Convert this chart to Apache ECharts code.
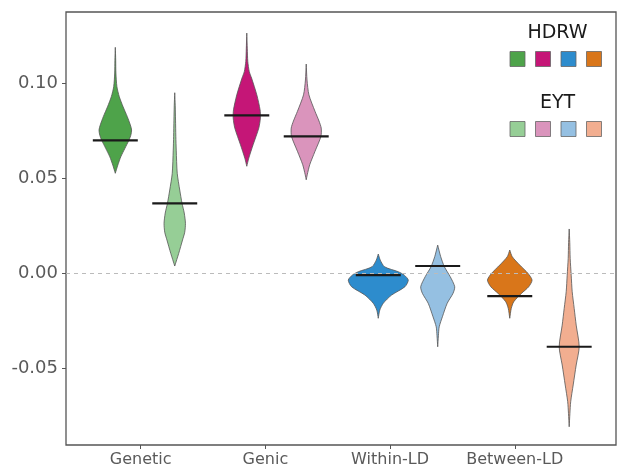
<!DOCTYPE html>
<html>
<head>
<meta charset="utf-8">
<script src="https://cdn.jsdelivr.net/npm/echarts@6/dist/echarts.min.js"></script>
<style>html,body{margin:0;padding:0;background:#fff;}#c{width:618px;height:469px;}</style>
</head>
<body>
<div id="c"></div>
<script>
// ---- data ----
const categories = ['Genetic', 'Genic', 'Within-LD', 'Between-LD'];
const groups = ['HDRW', 'EYT'];
const yTicks = [-0.05, 0, 0.05, 0.10];

// point estimates (horizontal bars)
const meanHDRW = [0.0698, 0.0830, -0.0011, -0.0121];
const meanEYT  = [0.0367, 0.0719, 0.0037, -0.0388];

// violin outlines: [value, density (half-width reading)] from top to bottom
const geneticHDRW = [[0.1188,0],[0.1120,0.4],[0.1053,0.6],[0.0981,1.6],[0.0928,4],[0.0875,7.8],[0.0823,12],[0.0780,15],[0.0753,16.3],[0.0725,15.5],[0.0700,13.7],[0.0655,9.5],[0.0612,5.5],[0.0568,2.5],[0.0525,0]];
const geneticEYT  = [[0.0949,0],[0.0880,0.5],[0.0805,0.8],[0.0720,1.1],[0.0647,1.5],[0.0525,2.5],[0.0437,5],[0.0367,7.3],[0.0316,9.5],[0.0262,10.7],[0.0215,10],[0.0174,7.8],[0.0104,4],[0.0037,0]];
const genicHDRW   = [[0.1263,0],[0.1180,0.5],[0.1114,1],[0.1060,2.5],[0.1026,4.8],[0.0938,10],[0.0859,13.3],[0.0816,13.6],[0.0763,12],[0.0675,6.3],[0.0605,2],[0.0562,0]];
const genicEYT    = [[0.1100,0],[0.1016,0.8],[0.0938,2.7],[0.0851,8.8],[0.0800,12.8],[0.0763,15],[0.0719,14.7],[0.0641,8.8],[0.0570,3.5],[0.0517,1],[0.0491,0]];
const withinHDRW  = [[0.0100,0],[0.0068,2],[0.0033,6.3],[0.0007,20],[-0.0011,26],[-0.0037,30],[-0.0072,26.7],[-0.0116,13.3],[-0.0159,5],[-0.0195,1.5],[-0.0238,0]];
const withinEYT   = [[0.0147,0],[0.0086,3],[0.0033,6.7],[-0.0019,12.5],[-0.0072,17],[-0.0107,15.3],[-0.0159,9.5],[-0.0230,4.7],[-0.0283,1.5],[-0.0330,0.7],[-0.0388,0]];
const betweenHDRW = [[0.0121,0],[0.0086,2.5],[0.0042,10],[-0.0002,18.3],[-0.0037,22.3],[-0.0072,19],[-0.0107,11.7],[-0.0151,4],[-0.0186,1.5],[-0.0238,0]];
const betweenEYT  = [[0.0232,0],[0.0160,0.6],[0.0077,1],[-0.0011,2],[-0.0098,3],[-0.0186,5],[-0.0274,7],[-0.0388,10],[-0.0484,7],[-0.0589,4],[-0.0677,1.5],[-0.0740,0.7],[-0.0809,0]];

const profilesHDRW = [geneticHDRW, genicHDRW, withinHDRW, betweenHDRW];
const profilesEYT  = [geneticEYT, genicEYT, withinEYT, betweenEYT];

const colorsHDRW = ['#4EA34A', '#C51677', '#2D8CCD', '#D9761A'];
const colorsEYT  = ['#96CE96', '#DA94BC', '#95C0E2', '#F2AE90'];

// ---- layout constants ----
const DODGE = 0.226;          // group offset on the violin axis
const WIDTH_SCALE = 1 / 131.5; // density reading -> axis units
const BAR_HALF = 0.171;       // half length of estimate bar

function makeRender(profiles, means, colors, offset) {
  return function (params, api) {
    const i = api.value(0);
    const prof = profiles[i];
    const cx = i + 1 + offset;
    const left = prof.map(p => api.coord([cx - p[1] * WIDTH_SCALE, p[0]]));
    const right = prof.slice().reverse().map(p => api.coord([cx + p[1] * WIDTH_SCALE, p[0]]));
    const pts = left.concat(right);
    const a = api.coord([cx - BAR_HALF, means[i]]);
    const b = api.coord([cx + BAR_HALF, means[i]]);
    return {
      type: 'group',
      children: [
        { type: 'polygon', shape: { points: pts, smooth: 0.25 },
          style: { fill: colors[i], stroke: '#555', lineWidth: 0.8 } },
        { type: 'line', shape: { x1: a[0], y1: a[1], x2: b[0], y2: b[1] },
          style: { stroke: '#1a1a1a', lineWidth: 2.2 } }
      ]
    };
  };
}

const idxData = categories.map((c, i) => [i]);
const FONT = 'DejaVu Sans';

const legendGraphics = [];
[['HDRW', colorsHDRW, 33, 59], ['EYT', colorsEYT, 103, 129]].forEach(([name, cols, ty, sy]) => {
  legendGraphics.push({ type: 'text', x: 557.5, y: ty,
    style: { text: name, fill: '#1a1a1a', font: '19px ' + FONT, align: 'center', verticalAlign: 'middle' } });
  cols.forEach((c, k) => {
    legendGraphics.push({ type: 'rect', shape: { x: 510 + k * 25.5, y: sy - 7.5, width: 15, height: 15 },
      style: { fill: c, stroke: '#666', lineWidth: 0.8 } });
  });
});

const chart = echarts.init(document.getElementById('c'));
chart.setOption({
  animation: false,
  backgroundColor: '#fff',
  grid: { left: 66, right: 2, top: 12, bottom: 24, show: true, borderColor: '#555', borderWidth: 1.3, backgroundColor: 'transparent' },
  xAxis: [
    { type: 'value', min: 0.401, max: 4.812, position: 'bottom',
      axisLine: { show: false, onZero: false },
      splitLine: { show: false },
      axisTick: { show: true, customValues: [1, 2, 3, 4], length: 4, lineStyle: { color: '#555', width: 1 } },
      axisLabel: { customValues: [1, 2, 3, 4], formatter: v => categories[Math.round(v) - 1] || '',
        color: '#5a5a5a', fontSize: 16, fontFamily: FONT, margin: 7 } },
    { type: 'value', min: 0.399, max: 4.582, show: false, axisLine: { onZero: false } }
  ],
  yAxis: {
    type: 'value', min: -0.0905, max: 0.1374,
    axisLine: { show: false, onZero: false },
    splitLine: { show: false },
    axisTick: { show: true, customValues: yTicks, length: 4, lineStyle: { color: '#555', width: 1 } },
    axisLabel: { customValues: yTicks, formatter: v => v.toFixed(2), color: '#5a5a5a', fontSize: 18, fontFamily: FONT, margin: 8 }
  },
  graphic: legendGraphics,
  series: [
    { type: 'line', xAxisIndex: 1, data: [], silent: true,
      markLine: { silent: true, symbol: 'none', label: { show: false },
        lineStyle: { color: '#bbb', type: [4, 4], width: 1 }, data: [{ yAxis: 0 }] } },
    { type: 'custom', name: groups[0], xAxisIndex: 1, data: idxData,
      renderItem: makeRender(profilesHDRW, meanHDRW, colorsHDRW, -DODGE), encode: { x: -1, y: -1 } },
    { type: 'custom', name: groups[1], xAxisIndex: 1, data: idxData,
      renderItem: makeRender(profilesEYT, meanEYT, colorsEYT, DODGE), encode: { x: -1, y: -1 } }
  ]
});
</script>
</body>
</html>
